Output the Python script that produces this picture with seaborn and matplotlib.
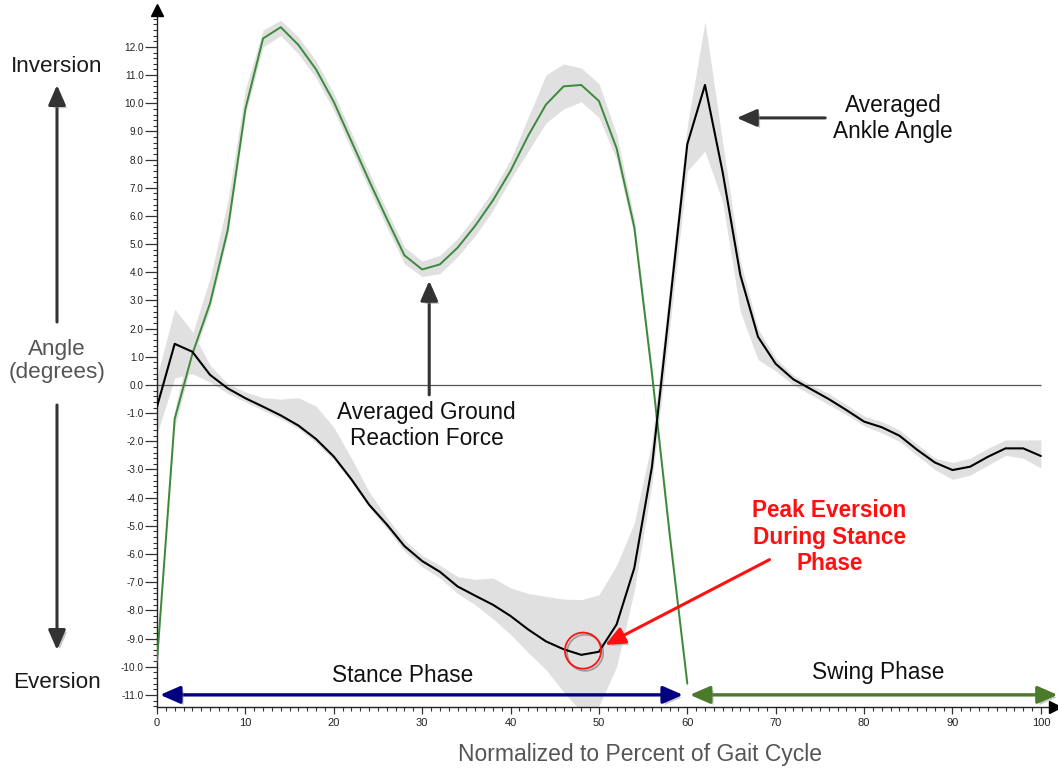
import numpy as np
import pandas as pd
import matplotlib
matplotlib.use("Agg")
import matplotlib.pyplot as plt
import matplotlib.patheffects as pe
from matplotlib.patches import FancyArrowPatch
from matplotlib.ticker import MultipleLocator, FuncFormatter
from matplotlib import font_manager
import seaborn as sns

# ---- data: percent of gait cycle (sampled every 2 %) ----
grf_pct = list(range(0, 61, 2))
grf_mean = [-9.8, -1.2, 1.1, 2.9, 5.5, 9.8, 12.3, 12.7, 12.07, 11.2,
            10.05, 8.65, 7.25, 5.9, 4.6, 4.1, 4.28, 4.87, 5.65, 6.55,
            7.6, 8.85, 9.95, 10.6, 10.65, 10.08, 8.4, 5.6, 0.4, -5.3, -10.6]
grf_upper = [-9.65, -0.9, 1.8, 3.8, 6.5, 10.5, 12.6, 12.95, 12.35, 11.5,
             10.35, 8.95, 7.55, 6.2, 4.9, 4.4, 4.6, 5.2, 6.0, 6.9,
             8.0, 9.5, 11.0, 11.4, 11.25, 10.7, 8.9, 5.9, 0.7, -5.0, -10.4]
grf_lower = [-9.95, -1.5, 0.9, 2.7, 5.3, 9.6, 12.0, 12.4, 11.75, 10.9,
             9.75, 8.35, 6.95, 5.6, 4.3, 3.85, 3.95, 4.55, 5.3, 6.2,
             7.3, 8.3, 9.3, 9.8, 10.05, 9.5, 8.0, 5.3, 0.1, -5.6, -10.8]

ankle_pct = list(range(0, 101, 2))
ankle_mean = [-0.77, 1.46, 1.18, 0.36, -0.12, -0.47, -0.77, -1.08, -1.44, -1.92,
              -2.54, -3.35, -4.25, -4.95, -5.72, -6.25, -6.63, -7.15, -7.48, -7.8,
              -8.2, -8.68, -9.1, -9.38, -9.58, -9.47, -8.5, -6.5, -2.9, 2.8,
              8.55, 10.65, 7.55, 3.9, 1.71, 0.75, 0.2, -0.15, -0.5, -0.89,
              -1.3, -1.5, -1.8, -2.3, -2.75, -3.02, -2.9, -2.55, -2.25, -2.25, -2.52]
ankle_upper = [0.3, 2.7, 1.9, 0.7, 0.05, -0.25, -0.45, -0.5, -0.45, -0.75,
               -1.5, -2.6, -3.8, -4.7, -5.5, -6.05, -6.4, -6.8, -6.9, -6.85,
               -7.2, -7.4, -7.5, -7.6, -7.62, -7.45, -6.4, -4.9, -2.0, 3.5,
               9.2, 12.9, 8.6, 4.4, 2.0, 0.95, 0.35, 0.0, -0.3, -0.7,
               -1.1, -1.3, -1.6, -2.1, -2.6, -2.75, -2.6, -2.25, -1.95, -1.95, -1.95]
ankle_lower = [-1.75, 0.25, 0.4, 0.1, -0.3, -0.6, -0.9, -1.2, -1.55, -2.05,
               -2.65, -3.45, -4.35, -5.1, -5.9, -6.45, -6.85, -7.4, -7.8, -8.3,
               -8.85, -9.5, -10.1, -10.9, -11.6, -11.4, -10.0, -7.3, -3.5, 2.0,
               7.6, 8.3, 6.5, 2.6, 0.9, 0.5, 0.0, -0.35, -0.7, -1.05,
               -1.45, -1.7, -2.0, -2.5, -3.0, -3.35, -3.2, -2.85, -2.5, -2.6, -2.95]

stance_end = 60  # toe-off, percent of gait cycle

y_ticks = list(range(-11, 13))
x_ticks = list(range(0, 101, 10))

grf = pd.DataFrame({"pct": grf_pct, "value": grf_mean})
ankle = pd.DataFrame({"pct": ankle_pct, "value": ankle_mean})

# ---- style ----
sns.set_style("ticks")
plt.rcParams["font.family"] = ["Liberation Sans", "DejaVu Sans"]


def narrow_family():
    try:
        font_manager.findfont("Liberation Sans Narrow", fallback_to_default=False)
        return ["Liberation Sans Narrow", "Liberation Sans", "DejaVu Sans"]
    except Exception:
        return ["Liberation Sans", "DejaVu Sans"]


GREEN = "#3b8a3b"
BAND = "#e0e0e0"
ARROW_GREY = "#333333"
NAVY = "#000080"
SWING_GREEN = "#4a7a2a"
RED = "#ff1010"

W, H = 1058, 774
fig = plt.figure(figsize=(W / 100, H / 100), dpi=100)
ax = fig.add_axes([157 / W, (H - 706.7) / H, 898 / W, (706.7 - 10.3) / H])

# ---- variability bands ----
ax.fill_between(grf_pct, grf_lower, grf_upper, color=BAND, lw=0, zorder=1)
ax.fill_between(ankle_pct, ankle_lower, ankle_upper, color=BAND, lw=0, zorder=1)

# zero reference line
ax.hlines(0, 0, 100, color="#555555", lw=0.9, zorder=2)

# ---- averaged curves ----
sns.lineplot(data=grf, x="pct", y="value", color=GREEN, linewidth=1.4, ax=ax, zorder=3)
sns.lineplot(data=ankle, x="pct", y="value", color="black", linewidth=1.5, ax=ax, zorder=4)

ax.set_xlim(0, 101.6)
ax.set_ylim(-11.42, 13.3)
ax.set_xlabel("")
ax.set_ylabel("")

# ---- axes / ticks ----
for s in ("top", "right"):
    ax.spines[s].set_visible(False)
for s in ("left", "bottom"):
    ax.spines[s].set_color("#222222")
    ax.spines[s].set_linewidth(1.0)

ax.yaxis.set_major_locator(MultipleLocator(1))
ax.yaxis.set_minor_locator(MultipleLocator(0.2))
ax.set_yticks(y_ticks)
ax.yaxis.set_major_formatter(FuncFormatter(lambda v, p: f"{v:.1f}"))
ax.set_xticks(x_ticks)
ax.xaxis.set_minor_locator(MultipleLocator(1))

ax.tick_params(axis="y", which="major", length=8.5, width=0.9, color="#333333",
               labelsize=7.2, labelcolor="#222222", pad=1)
ax.tick_params(axis="y", which="minor", length=3.2, width=0.8, color="#333333")
ax.tick_params(axis="x", which="major", length=5, width=0.9, color="#333333",
               labelsize=8, labelcolor="#222222", pad=3)
ax.tick_params(axis="x", which="minor", length=3, width=0.8, color="#333333")
for lab in ax.get_xticklabels():
    lab.set_family(narrow_family())

# axis arrowheads
ax.plot(0, 1, marker="^", color="black", ms=9, transform=ax.transAxes,
        clip_on=False, zorder=6)
ax.plot(1, 0, marker=">", color="black", ms=9, transform=ax.transAxes,
        clip_on=False, zorder=6)

ax.set_xlabel("Normalized to Percent of Gait Cycle", fontsize=16.5, color="#555555")
ax.xaxis.set_label_coords(0.538, -0.052)

shadow = [pe.SimplePatchShadow(offset=(2, -2), shadow_rgbFace="#888888", alpha=0.45),
          pe.Normal()]


def arrow(a, b, color, lw, style, transform, scale=15, parent=None):
    p = FancyArrowPatch(a, b, arrowstyle=style, mutation_scale=scale, color=color,
                        lw=lw, shrinkA=0, shrinkB=0, transform=transform,
                        path_effects=shadow, clip_on=False, zorder=7)
    (parent or ax).add_artist(p)
    return p


HEAD = "-|>,head_length=0.8,head_width=0.35"
BOTH = "<|-|>,head_length=0.8,head_width=0.35"

# ---- left-hand direction labels ----
fig.text(57 / W, 1 - 66 / H, "Inversion", ha="center", va="center",
         fontsize=16.2, color="#1a1a1a")
fig.text(57 / W, 1 - 361 / H, "Angle\n(degrees)", ha="center", va="center",
         fontsize=16.2, color="#555555", linespacing=1.1)
fig.text(57 / W, 1 - 683 / H, "Eversion", ha="center", va="center",
         fontsize=16.2, color="#1a1a1a")
arrow((57 / W, 1 - 322 / H), (57 / W, 1 - 85 / H), ARROW_GREY, 2.2, HEAD,
      fig.transFigure, parent=fig)
arrow((57 / W, 1 - 405 / H), (57 / W, 1 - 650 / H), ARROW_GREY, 2.2, HEAD,
      fig.transFigure, parent=fig)

# ---- curve call-outs ----
grf_min_i = int(np.argmin(grf_mean[10:20])) + 10
ax.text(30.5, -1.45, "Averaged Ground\nReaction Force", ha="center", va="center",
        fontsize=16.3, color="#111111", linespacing=1.15, zorder=8)
arrow((grf_pct[grf_min_i] + 0.8, -0.35), (grf_pct[grf_min_i] + 0.8, grf_mean[grf_min_i] - 0.4),
      ARROW_GREY, 2.2, HEAD, ax.transData)

ax.text(83.3, 9.45, "Averaged\nAnkle Angle", ha="center", va="center",
        fontsize=16.3, color="#111111", linespacing=1.15, zorder=8)
arrow((75.6, 9.48), (65.6, 9.48), ARROW_GREY, 2.2, HEAD, ax.transData)

# peak eversion during stance
stance = [i for i, p in enumerate(ankle_pct) if p <= stance_end]
pk = min(stance, key=lambda i: ankle_mean[i])
pk_x, pk_y = ankle_pct[pk], ankle_mean[pk]
ax.plot(pk_x + 0.2, pk_y + 0.15, marker="o", ms=26, mfc="none", mec=RED, mew=1.3,
        zorder=6, path_effects=[pe.SimpleLineShadow(offset=(1.5, -1.5), alpha=0.3), pe.Normal()])
ax.text(76.1, -5.4, "Peak Eversion\nDuring Stance\nPhase", ha="center", va="center",
        fontsize=16.3, color=RED, fontweight="bold", linespacing=1.18, zorder=8)
arrow((69.3, -6.2), (pk_x + 2.7, pk_y + 0.35), RED, 2.2, HEAD, ax.transData)

# ---- phase arrows ----
ax.text(27.8, -10.3, "Stance Phase", ha="center", va="center", fontsize=16.3,
        color="#111111", zorder=8)
arrow((0.35, -11.0), (stance_end - 0.5, -11.0), NAVY, 2.4, BOTH, ax.transData)
ax.text(81.6, -10.2, "Swing Phase", ha="center", va="center", fontsize=16.3,
        color="#111111", zorder=8)
arrow((stance_end + 0.3, -11.0), (101.9, -11.0), SWING_GREEN, 2.4, BOTH, ax.transData)

fig.savefig("out.png", dpi=100)
